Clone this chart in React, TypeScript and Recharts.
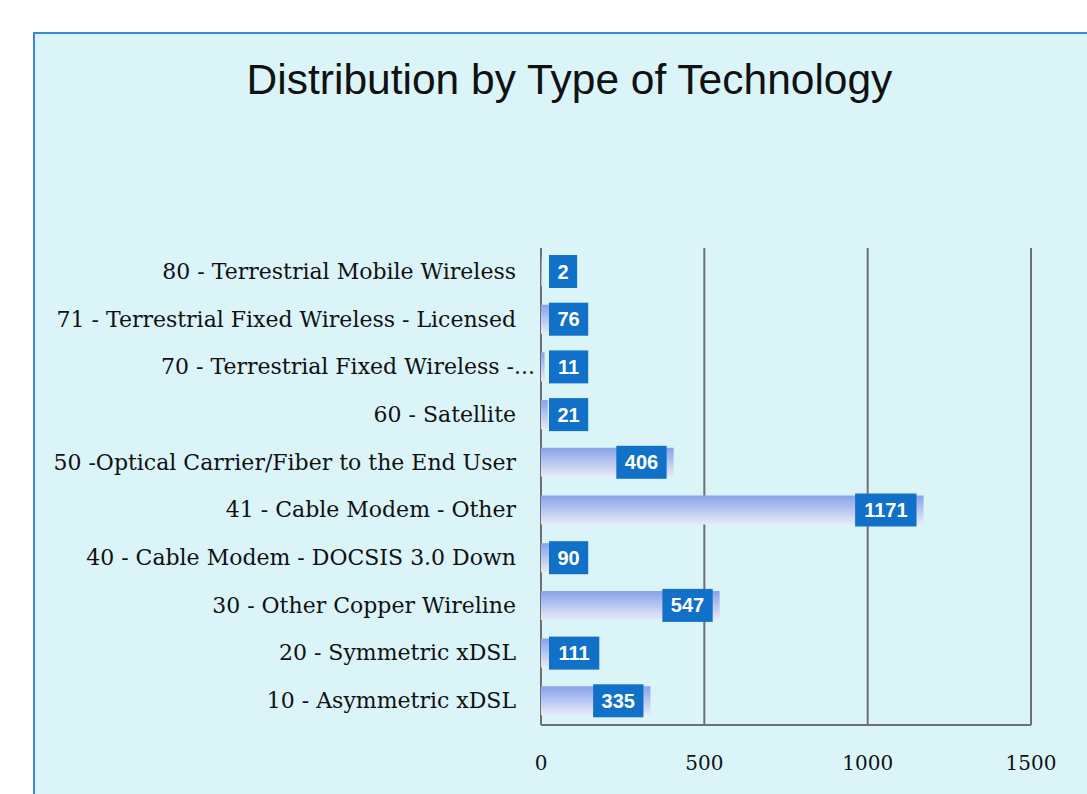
import React from 'react';
import { BarChart, Bar, XAxis, YAxis, CartesianGrid, LabelList } from 'recharts';

const categories = [
  '80 - Terrestrial Mobile Wireless',
  '71 - Terrestrial Fixed Wireless - Licensed',
  '70 - Terrestrial Fixed Wireless -...',
  '60 - Satellite',
  '50 -Optical Carrier/Fiber to the End User',
  '41 - Cable Modem - Other',
  '40 - Cable Modem - DOCSIS 3.0 Down',
  '30 - Other Copper Wireline',
  '20 - Symmetric xDSL',
  '10 - Asymmetric xDSL',
];
const counts = [2, 76, 11, 21, 406, 1171, 90, 547, 111, 335];
const xTicks = [0, 500, 1000, 1500];

const chartData = categories.map((name, i) => ({ name, count: counts[i] }));

const serif = '"DejaVu Serif", "Liberation Serif", serif';

const CategoryTick = (props: any) => {
  const { y, payload } = props;
  const truncated = String(payload.value).endsWith('...');
  return (
    <text x={truncated ? 535 : 516} y={y} dy={7} textAnchor="end" fontFamily={serif} fontSize={22} fill="#111">
      {payload.value}
    </text>
  );
};

const ValueTick = (props: any) => {
  const { x, y, payload } = props;
  return (
    <text x={x} y={y} dy={37} textAnchor="middle" fontFamily={serif} fontSize={20} fill="#111">
      {payload.value}
    </text>
  );
};

const ValueBox = (props: any) => {
  const { x, y, width, height, value } = props;
  const digits = String(value).length;
  const w = 11.1 * digits + 17;
  const h = 33;
  let left = x + width - 7 - w;
  if (left < x + 8) left = x + 8;
  const cy = y + height / 2;
  return (
    <g>
      <rect x={left} y={cy - h / 2} width={w} height={h} fill="#1170c8" />
      <text x={left + w / 2} y={cy} dy={7} textAnchor="middle" fontFamily='"Liberation Sans", Arial, sans-serif' fontWeight="bold" fontSize={20} fill="#fff">
        {value}
      </text>
    </g>
  );
};

export default function App() {
  return (
    <div style={{ position: 'fixed', left: 0, top: 0, width: 1087, height: 794, overflow: 'hidden', background: '#fff' }}>
      <div style={{ position: 'absolute', left: 33, top: 32, width: 1100, height: 800, boxSizing: 'border-box', border: '2px solid #3b88d8', background: '#daf4f8' }} />
      <div style={{ position: 'absolute', left: 0, top: 55, width: 1139, textAlign: 'center', fontFamily: '"Liberation Sans", Arial, sans-serif', fontSize: 42.5, color: '#111', lineHeight: '50px' }}>
        Distribution by Type of Technology
      </div>
      <div style={{ position: 'absolute', left: 0, top: 0 }}>
        <BarChart width={1087} height={794} layout="vertical" data={chartData} margin={{ top: 248, right: 56, bottom: 0, left: 0 }}>
          <defs>
            <linearGradient id="barFill" x1="0" y1="0" x2="0" y2="1">
              <stop offset="0%" stopColor="#88a3ea" />
              <stop offset="100%" stopColor="#e8eaf8" />
            </linearGradient>
          </defs>
          <CartesianGrid horizontal={false} stroke="#707070" strokeWidth={2} />
          <XAxis type="number" domain={[0, 1500]} ticks={xTicks} height={69} axisLine={{ stroke: '#707070', strokeWidth: 2 }} tickLine={false} tick={<ValueTick />} />
          <YAxis type="category" dataKey="name" width={541} axisLine={false} tickLine={false} tick={<CategoryTick />} interval={0} />
          <Bar dataKey="count" fill="url(#barFill)" barSize={29} isAnimationActive={false}>
            <LabelList dataKey="count" content={<ValueBox />} />
          </Bar>
        </BarChart>
      </div>
    </div>
  );
}
